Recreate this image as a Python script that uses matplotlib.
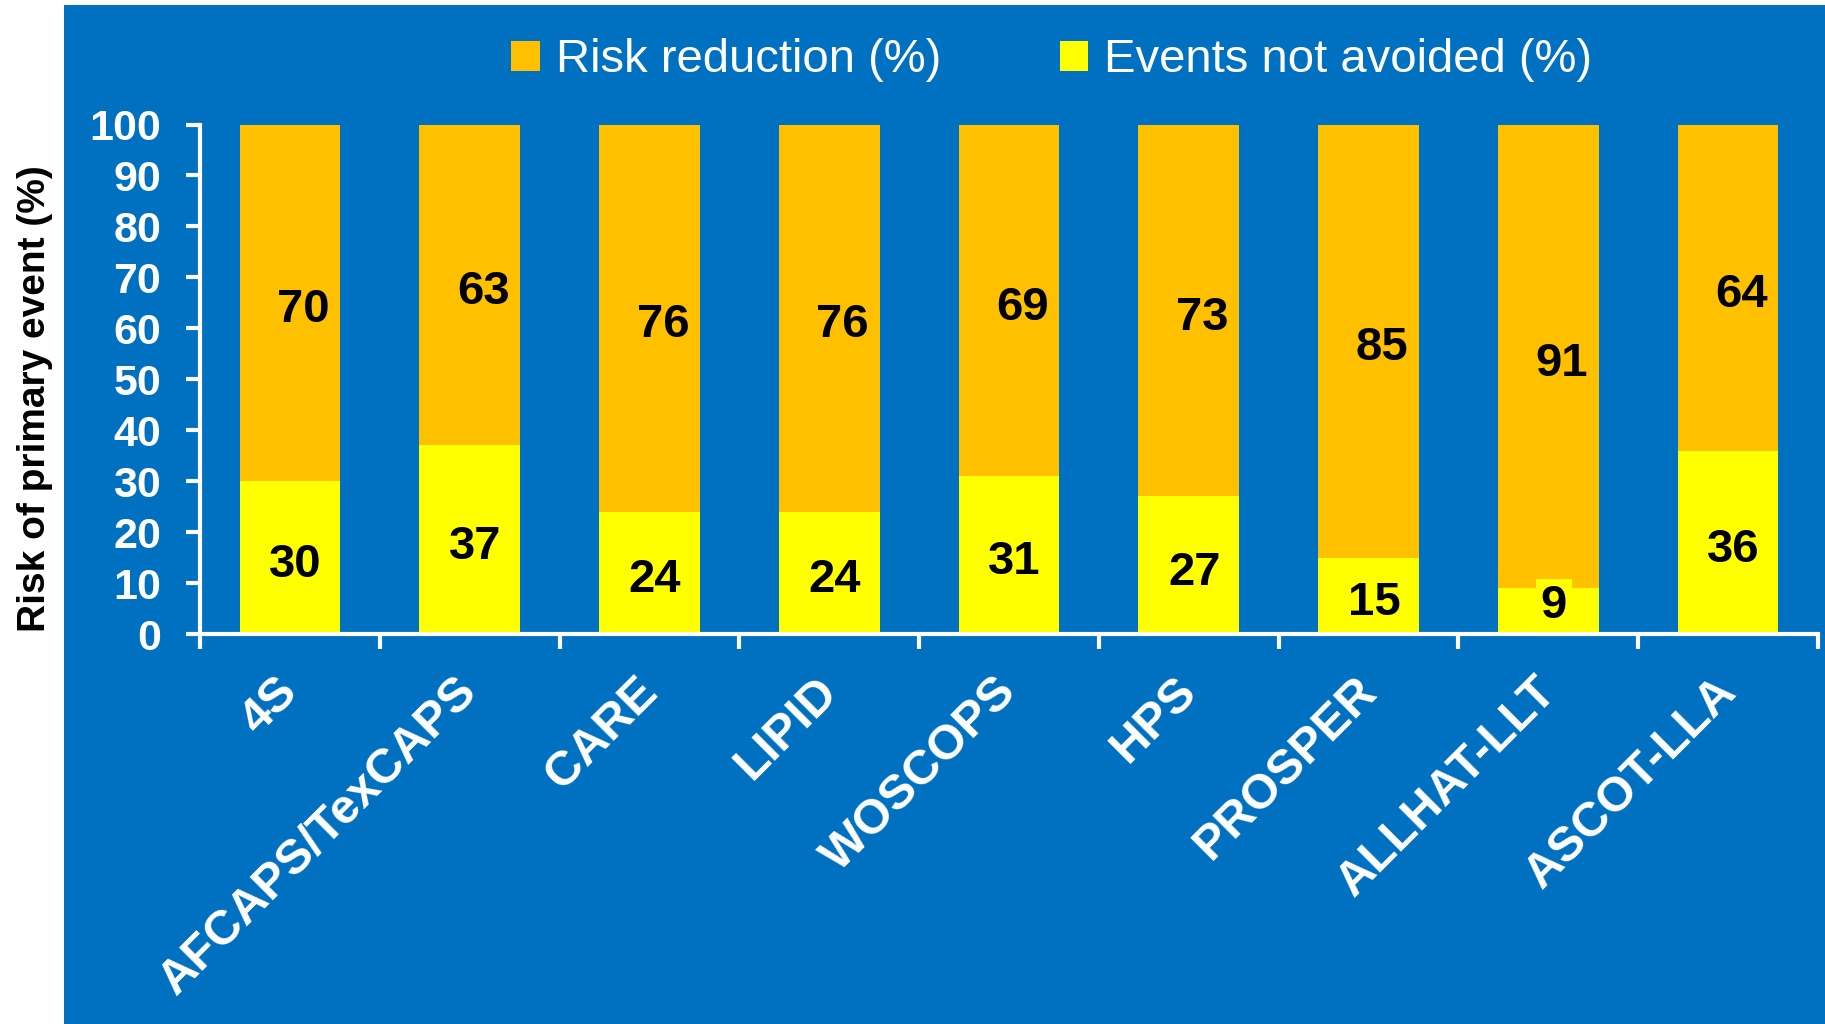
import numpy as np
import matplotlib.pyplot as plt
from matplotlib.patches import Rectangle
from matplotlib.transforms import ScaledTranslation

plt.rcParams['font.family'] = ['Liberation Sans', 'DejaVu Sans']

# datos del grafico
estudios = ['4S', 'AFCAPS/TexCAPS', 'CARE', 'LIPID', 'WOSCOPS', 'HPS',
            'PROSPER', 'ALLHAT-LLT', 'ASCOT-LLA']
no_evitados = [30, 37, 24, 24, 31, 27, 15, 9, 36]
reduccion = [70, 63, 76, 76, 69, 73, 85, 91, 64]
yticks = list(range(0, 101, 10))

azul = '#0070C0'
naranja = '#FFC000'
amarillo = '#FFFF00'

fig = plt.figure(figsize=(18.25, 10.24), dpi=100)
fig.patch.set_facecolor('white')
# fondo azul (deja una franja blanca a la izquierda y arriba)
fondo = Rectangle((64 / 1825, 0), 1, 1 - 5 / 1024, transform=fig.transFigure,
                  facecolor=azul, edgecolor='none', zorder=-10)
fig.patches.append(fondo)

ax = fig.add_axes([200 / 1825, 390 / 1024, 1618 / 1825, 509.5 / 1024])
ax.set_facecolor('none')

x = np.arange(len(estudios))
ancho = 0.56
b1 = ax.bar(x, no_evitados, ancho, color=amarillo, label='Events not avoided (%)', zorder=2)
b2 = ax.bar(x, reduccion, ancho, bottom=no_evitados, color=naranja, label='Risk reduction (%)', zorder=2)

# etiquetas de cada segmento
for i in range(len(estudios)):
    ax.text(x[i] + 0.075, no_evitados[i] + reduccion[i] / 2 - 3.8, str(reduccion[i]),
            ha='center', va='baseline', fontsize=34, fontweight='bold', color='black', zorder=3)
    if no_evitados[i] < 12:
        # el valor chico lleva su propio recuadro amarillo
        ax.text(x[i] + 0.03, 3.2, str(no_evitados[i]),
                ha='center', va='baseline', fontsize=34, fontweight='bold', color='black', zorder=5,
                bbox=dict(boxstyle='square,pad=0.1', facecolor=amarillo, edgecolor='none'))
    else:
        ax.text(x[i] + 0.03, no_evitados[i] / 2 - 3.8, str(no_evitados[i]),
                ha='center', va='baseline', fontsize=34, fontweight='bold', color='black', zorder=3)

ax.set_xlim(-0.5, len(estudios) - 0.5)
ax.set_ylim(0, 100)

ax.spines['top'].set_visible(False)
ax.spines['right'].set_visible(False)
for s in ['left', 'bottom']:
    ax.spines[s].set_color('white')
    ax.spines[s].set_linewidth(3)
    ax.spines[s].set_zorder(4)

ax.set_yticks(yticks)
ax.set_yticklabels([str(v) for v in yticks])
ax.tick_params(axis='y', colors='white', direction='out', length=10, width=3, pad=18,
               labelsize=31)
for t in ax.get_yticklabels():
    t.set_fontweight('bold')

ax.set_xticks(x)
ax.set_xticks(np.arange(-0.5, len(estudios), 1), minor=True)
ax.tick_params(axis='x', which='major', length=0, pad=25, labelcolor='white')
ax.tick_params(axis='x', which='minor', colors='white', direction='out', length=11, width=3)
ax.set_xticklabels(estudios, rotation=45, ha='right', va='top', rotation_mode='anchor',
                   fontsize=35, fontweight='bold', color='white')
for t in ax.get_xticklabels():
    t.set_transform(t.get_transform() + ScaledTranslation(-0.15, 0, fig.dpi_scale_trans))

fig.text(35 / 1825, 0.611, 'Risk of primary event (%)', rotation=90, ha='center', va='center',
         fontsize=28, fontweight='bold', color='black')

leg = fig.legend([b2, b1], ['Risk reduction (%)', 'Events not avoided (%)'],
                 loc='center', bbox_to_anchor=(0.5764, 0.941), ncol=2, frameon=False,
                 fontsize=34, handlelength=0.6, handleheight=0.6, handletextpad=0.35,
                 columnspacing=2.5)
for t in leg.get_texts():
    t.set_color('white')

fig.savefig('out.png', dpi=100, facecolor=fig.get_facecolor())
